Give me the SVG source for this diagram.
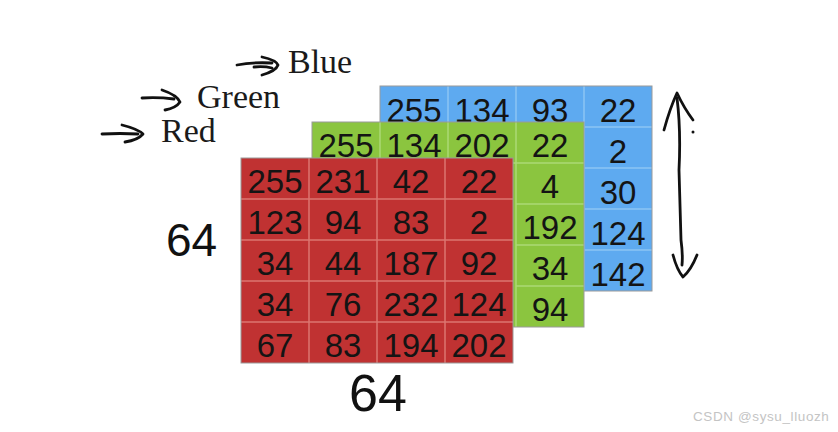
<svg xmlns="http://www.w3.org/2000/svg" width="838" height="432" viewBox="0 0 838 432">
<style>
.num{font-family:"Liberation Sans",Arial,sans-serif;font-size:33px;text-anchor:middle;fill:#141414}
.lbl{font-family:"Liberation Serif","Times New Roman",serif;font-size:34px;fill:#1a1a1a}
.hand{font-family:"Liberation Sans",Arial,sans-serif;fill:#111}
.ink{fill:none;stroke:#111;stroke-width:2.8;stroke-linecap:round;stroke-linejoin:round}
.red{fill:#c03232}
.green{fill:#8bc53f}
.blue{fill:#5eaaf0}
.rl{stroke:#dc7670;stroke-width:1.5}
.gl{stroke:#abd976;stroke-width:1.5}
.bl{stroke:#8cc4f4;stroke-width:1.5}
.edge{fill:none;stroke:#9a9a9a;stroke-width:1}
</style>
<rect width="838" height="432" fill="#ffffff"/>

<g id="blue-layer">
<rect class="blue" x="380" y="86" width="272" height="205"/>
<g class="bl">
<line x1="448" y1="86" x2="448" y2="127"/><line x1="516" y1="86" x2="516" y2="127"/><line x1="584" y1="86" x2="584" y2="291"/>
<line x1="380" y1="127" x2="652" y2="127"/><line x1="584" y1="168" x2="652" y2="168"/><line x1="584" y1="209" x2="652" y2="209"/><line x1="584" y1="250" x2="652" y2="250"/>
</g>
<rect class="edge" x="380" y="86" width="272" height="205"/>
<text class="num" x="414" y="122">255</text><text class="num" x="482" y="122">134</text><text class="num" x="550" y="122">93</text><text class="num" x="618" y="122">22</text>
<text class="num" x="618" y="163">2</text><text class="num" x="618" y="204">30</text><text class="num" x="618" y="245">124</text><text class="num" x="618" y="286">142</text>
</g>

<g id="green-layer">
<rect class="green" x="312" y="122" width="272" height="205"/>
<g class="gl">
<line x1="380" y1="122" x2="380" y2="163"/><line x1="448" y1="122" x2="448" y2="163"/><line x1="516" y1="122" x2="516" y2="327"/>
<line x1="312" y1="163" x2="584" y2="163"/><line x1="516" y1="204" x2="584" y2="204"/><line x1="516" y1="245" x2="584" y2="245"/><line x1="516" y1="286" x2="584" y2="286"/>
</g>
<rect class="edge" x="312" y="122" width="272" height="205"/>
<text class="num" x="346" y="157">255</text><text class="num" x="414" y="157">134</text><text class="num" x="482" y="157">202</text><text class="num" x="550" y="157">22</text>
<text class="num" x="550" y="198">4</text><text class="num" x="550" y="239">192</text><text class="num" x="550" y="280">34</text><text class="num" x="550" y="321">94</text>
</g>

<g id="red-layer">
<rect class="red" x="241" y="158" width="272" height="205"/>
<g class="rl">
<line x1="309" y1="158" x2="309" y2="363"/><line x1="377" y1="158" x2="377" y2="363"/><line x1="445" y1="158" x2="445" y2="363"/>
<line x1="241" y1="199" x2="513" y2="199"/><line x1="241" y1="240" x2="513" y2="240"/><line x1="241" y1="281" x2="513" y2="281"/><line x1="241" y1="322" x2="513" y2="322"/>
</g>
<rect class="edge" x="241" y="158" width="272" height="205"/>
<text class="num" x="275" y="193">255</text><text class="num" x="343" y="193">231</text><text class="num" x="411" y="193">42</text><text class="num" x="479" y="193">22</text>
<text class="num" x="275" y="234">123</text><text class="num" x="343" y="234">94</text><text class="num" x="411" y="234">83</text><text class="num" x="479" y="234">2</text>
<text class="num" x="275" y="275">34</text><text class="num" x="343" y="275">44</text><text class="num" x="411" y="275">187</text><text class="num" x="479" y="275">92</text>
<text class="num" x="275" y="316">34</text><text class="num" x="343" y="316">76</text><text class="num" x="411" y="316">232</text><text class="num" x="479" y="316">124</text>
<text class="num" x="275" y="357">67</text><text class="num" x="343" y="357">83</text><text class="num" x="411" y="357">194</text><text class="num" x="479" y="357">202</text>
</g>

<g id="label-blue"><text class="lbl" x="288" y="73">Blue</text></g>
<g id="label-green"><text class="lbl" x="197" y="108">Green</text></g>
<g id="label-red"><text class="lbl" x="161" y="142">Red</text></g>
<g id="height-label"><text class="hand" x="166" y="256" font-size="46">64</text></g>
<g id="width-label"><text class="hand" x="349" y="411" font-size="52">64</text></g>

<g id="connectors">
<path class="ink" d="M237 65 Q252 62 272 63"/>
<path class="ink" d="M254 67 Q264 66 272 68"/>
<path class="ink" d="M262 57 Q276 60 278 65 Q276 71 262 75"/>
<path class="ink" d="M142 98 Q158 97 174 99"/>
<path class="ink" d="M162 90 Q177 95 180 102 Q176 108 165 110"/>
<path class="ink" d="M102 134 Q120 133 138 134"/>
<path class="ink" d="M122 125 Q138 129 143 134 Q138 140 125 142"/>
<path class="ink" d="M677 98 Q681 130 679 170 Q680 210 681 240 Q683 255 682 265"/>
<path class="ink" d="M664 130 Q670 108 677 93 Q684 108 693 120"/>
<circle cx="693" cy="132" r="1.5" fill="#111"/>
<path class="ink" d="M673 255 Q677 270 683 277 Q691 270 697 255"/>
</g>

<text x="693" y="421" font-family="Liberation Sans,Arial,sans-serif" font-size="13.5" letter-spacing="0.6" fill="#c4c4c4">CSDN @sysu_lluozh</text>
</svg>
